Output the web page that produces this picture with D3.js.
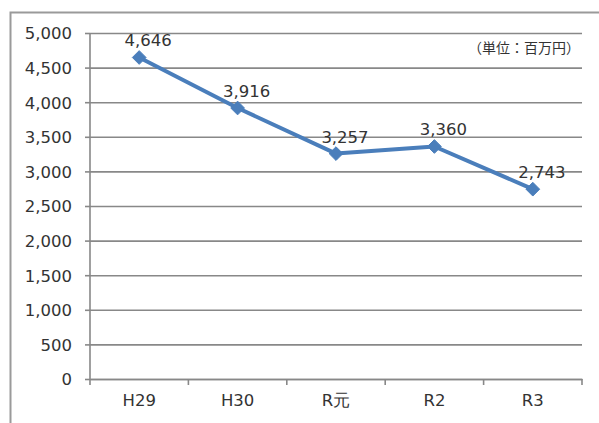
<!DOCTYPE html>
<html><head><meta charset="utf-8">
<script src="https://cdn.jsdelivr.net/npm/d3@7"></script>
<style>body{margin:0;background:#fff}svg{display:block}</style>
</head><body>
<script>
const categories = ["H29", "H30", "R元", "R2", "R3"];
const values = [4646, 3916, 3257, 3360, 2743];
const yTicks = [0, 500, 1000, 1500, 2000, 2500, 3000, 3500, 4000, 4500, 5000];
const unitLabel = "（単位：百万円）";

const W = 599, H = 423;
const svg = d3.select("body").append("svg").attr("width", W).attr("height", H);
const font = "'DejaVu Sans', sans-serif";
const textColor = "#333333";
const gridColor = "#888888";

// outer frame
svg.append("path").attr("d", "M10.5,430 L10.5,12.5 L620,12.5")
  .attr("fill", "none").attr("stroke", "#9a9a9a").attr("stroke-width", 2);

const x = d3.scaleBand().domain(categories).range([90, 582]);
const y = d3.scaleLinear().domain([0, 5000]).range([379, 33]);

// gridlines + y axis
const yAxis = d3.axisLeft(y).tickValues(yTicks).tickSize(5).tickPadding(13)
  .tickFormat(d3.format(","));
const gy = svg.append("g").attr("transform", "translate(90,0)").call(yAxis);
gy.select(".domain").remove();
gy.selectAll(".tick line").attr("stroke", gridColor).attr("stroke-width", 1.6);
gy.selectAll(".tick").append("line").attr("x1", 0).attr("x2", 492)
  .attr("stroke", gridColor).attr("stroke-width", 1.6);
gy.selectAll("text").attr("font-family", font).attr("font-size", 16.5)
  .attr("fill", textColor).attr("dy", "0.36em");
svg.append("line").attr("x1", 90).attr("x2", 90).attr("y1", 33).attr("y2", 379)
  .attr("stroke", gridColor).attr("stroke-width", 1.6);

// x axis
const xAxis = d3.axisBottom(x).tickSize(0).tickPadding(15);
const gx = svg.append("g").attr("transform", "translate(0,379)").call(xAxis);
gx.select(".domain").attr("stroke", gridColor).attr("stroke-width", 1.6);
gx.selectAll("text").attr("font-family", font).attr("font-size", 16.5)
  .attr("fill", textColor).attr("dy", "0.75em");
const edges = categories.map(c => x(c)).concat([x.range()[1]]);
svg.append("g").selectAll("line").data(edges).join("line")
  .attr("x1", d => d).attr("x2", d => d).attr("y1", 379).attr("y2", 385)
  .attr("stroke", gridColor).attr("stroke-width", 1.6);

// line
const cx = c => x(c) + x.bandwidth() / 2;
const line = d3.line().x((d, i) => cx(categories[i])).y(d => y(d));
svg.append("path").datum(values).attr("d", line)
  .attr("fill", "none").attr("stroke", "#4a7ebb").attr("stroke-width", 4)
  .attr("stroke-linejoin", "round");

// markers
svg.append("g").selectAll("path").data(values).join("path")
  .attr("d", d3.symbol().type(d3.symbolDiamond2).size(120))
  .attr("transform", (d, i) => `translate(${cx(categories[i])},${y(d)})`)
  .attr("fill", "#4a7ebb").attr("stroke", "#4a7ebb").attr("stroke-width", 1);

// data labels
svg.append("g").selectAll("text").data(values).join("text")
  .attr("x", (d, i) => cx(categories[i]) + 9)
  .attr("y", d => y(d) - 11)
  .attr("text-anchor", "middle")
  .attr("font-family", font).attr("font-size", 16.5).attr("fill", textColor)
  .text(d => d3.format(",")(d));

// unit label
svg.append("text").attr("x", 580).attr("y", 53).attr("text-anchor", "end")
  .attr("font-family", "'Noto Sans CJK JP', sans-serif").attr("font-size", 14)
  .attr("fill", textColor).text(unitLabel);
</script>
</body></html>
